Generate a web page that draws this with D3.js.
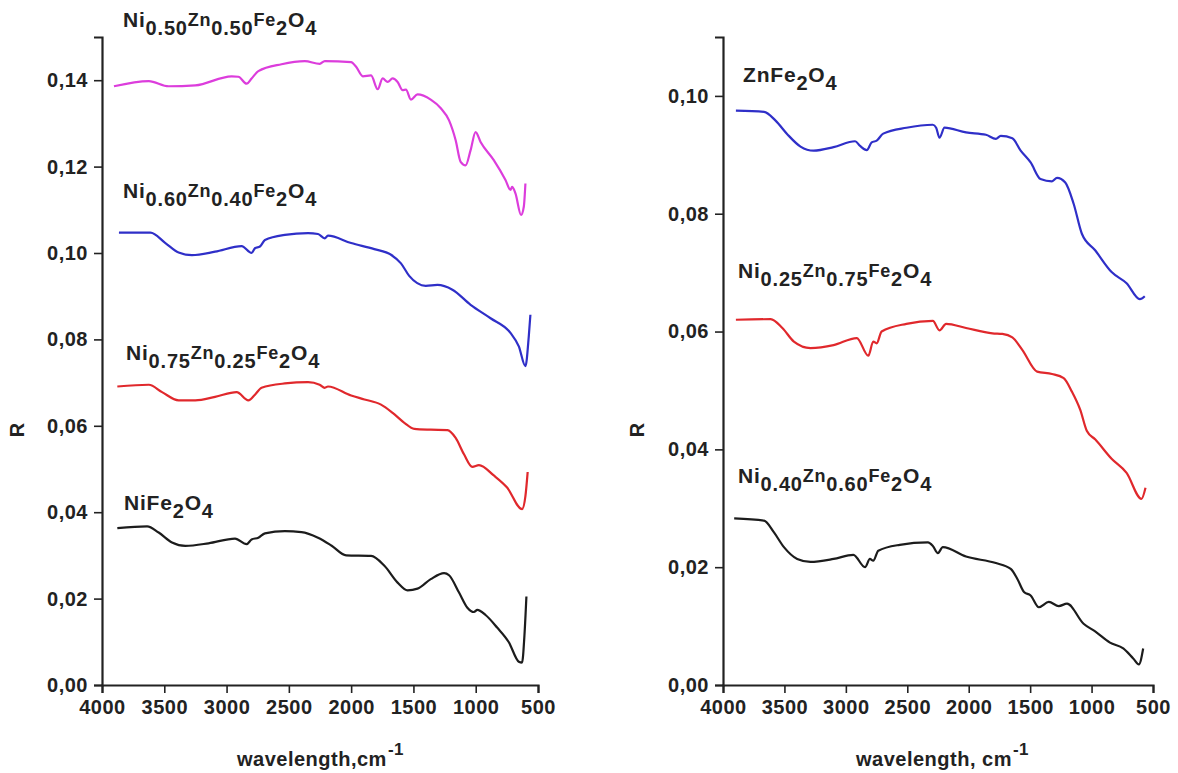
<!DOCTYPE html>
<html>
<head>
<meta charset="utf-8">
<script src="https://cdn.jsdelivr.net/npm/d3@7"></script>
<style>
  body { margin: 0; background: #fff; }
  text { font-family: "Liberation Sans", Arial, sans-serif; font-weight: bold; fill: #222; }
</style>
</head>
<body>
<div id="chart"></div>
<script>
// wavenumber (cm-1), R
var niZn50 = [[3904,0.1386],[3624,0.1398],[3465,0.1386],[3251,0.1388],[2959,0.1409],[2905,0.1408],[2839,0.1392],[2799,0.1404],[2745,0.1421],[2559,0.1437],[2372,0.1444],[2252,0.1438],[2212,0.1444],[2000,0.1442],[1960,0.1431],[1906,0.1409],[1840,0.1411],[1787,0.1379],[1747,0.1404],[1707,0.1396],[1667,0.1404],[1627,0.1396],[1587,0.1377],[1560,0.1378],[1520,0.1355],[1467,0.1367],[1361,0.1355],[1280,0.1335],[1214,0.1307],[1161,0.1261],[1121,0.1211],[1081,0.1203],[1041,0.1238],[1001,0.1280],[961,0.1257],[855,0.1215],[761,0.1169],[721,0.1146],[708,0.1153],[681,0.1138],[636,0.1088],[614,0.1107],[601,0.1161]];
var niZn40 = [[3864,0.1047],[3611,0.1047],[3491,0.1023],[3385,0.1001],[3278,0.0995],[3092,0.1003],[2879,0.1016],[2799,0.1000],[2772,0.1011],[2732,0.1015],[2692,0.1030],[2532,0.1042],[2346,0.1046],[2266,0.1044],[2212,0.1034],[2186,0.1040],[2000,0.1023],[1814,0.1009],[1680,0.0996],[1600,0.0976],[1534,0.0947],[1401,0.0924],[1307,0.0926],[1187,0.0915],[1041,0.0880],[881,0.0849],[721,0.0815],[654,0.0784],[601,0.0738],[574,0.0807],[561,0.0857]];
var niZn25 = [[3877,0.0691],[3624,0.0695],[3518,0.0678],[3385,0.0659],[3251,0.0659],[3092,0.0667],[2919,0.0678],[2825,0.0659],[2772,0.0672],[2719,0.0688],[2532,0.0698],[2346,0.0701],[2253,0.0695],[2212,0.0688],[2186,0.0691],[2000,0.0670],[1893,0.0661],[1760,0.0649],[1667,0.0630],[1573,0.0607],[1493,0.0593],[1361,0.0591],[1227,0.0590],[1161,0.0572],[1094,0.0534],[1027,0.0505],[974,0.0509],[855,0.0485],[748,0.0457],[628,0.0407],[601,0.0437],[583,0.0493]];
var niFe = [[3877,0.0363],[3638,0.0367],[3545,0.0353],[3438,0.0330],[3331,0.0322],[3145,0.0328],[2932,0.0339],[2839,0.0326],[2799,0.0337],[2745,0.0341],[2692,0.0351],[2532,0.0356],[2399,0.0354],[2266,0.0341],[2159,0.0323],[2040,0.0300],[1840,0.0299],[1733,0.0276],[1627,0.0237],[1547,0.0219],[1467,0.0223],[1361,0.0245],[1254,0.0259],[1214,0.0254],[1134,0.0214],[1067,0.0179],[1014,0.0169],[987,0.0174],[921,0.0162],[828,0.0133],[734,0.0099],[654,0.0054],[628,0.0052],[609,0.0114],[593,0.0205]];

var znFe = [[3895,0.0975],[3666,0.0973],[3572,0.0958],[3477,0.0935],[3369,0.0914],[3262,0.0907],[3100,0.0913],[2925,0.0923],[2884,0.0915],[2830,0.0908],[2790,0.0921],[2749,0.0924],[2696,0.0936],[2507,0.0946],[2292,0.0951],[2265,0.0946],[2238,0.0929],[2197,0.0946],[2022,0.0938],[1860,0.0934],[1779,0.0927],[1739,0.0932],[1645,0.0928],[1577,0.0907],[1496,0.0887],[1416,0.0859],[1322,0.0855],[1281,0.0861],[1214,0.0853],[1146,0.0817],[1079,0.0766],[971,0.0738],[837,0.0701],[715,0.0682],[607,0.0655],[567,0.0660]];
var niZn75 = [[3895,0.0620],[3612,0.0621],[3517,0.0606],[3423,0.0583],[3288,0.0572],[3100,0.0577],[2911,0.0589],[2817,0.0559],[2777,0.0583],[2749,0.0580],[2709,0.0600],[2507,0.0613],[2292,0.0618],[2238,0.0602],[2184,0.0613],[2022,0.0606],[1807,0.0597],[1726,0.0596],[1645,0.0590],[1564,0.0569],[1443,0.0532],[1322,0.0528],[1227,0.0521],[1160,0.0498],[1092,0.0467],[1038,0.0431],[971,0.0417],[837,0.0384],[715,0.0360],[594,0.0316],[561,0.0335]];
var niZn60 = [[3909,0.0283],[3666,0.0279],[3585,0.0259],[3504,0.0234],[3396,0.0214],[3289,0.0209],[3100,0.0214],[2939,0.0221],[2844,0.0200],[2804,0.0214],[2777,0.0211],[2736,0.0228],[2561,0.0238],[2332,0.0242],[2292,0.0236],[2251,0.0224],[2211,0.0234],[2022,0.0218],[1779,0.0207],[1658,0.0197],[1604,0.0180],[1550,0.0158],[1496,0.0152],[1429,0.0132],[1348,0.0141],[1267,0.0134],[1200,0.0138],[1065,0.0104],[971,0.0091],[850,0.0072],[742,0.0062],[661,0.0045],[615,0.0035],[580,0.0062]];

var xTicks = [4000, 3500, 3000, 2500, 2000, 1500, 1000, 500];
var yTicksLeft = [0, 0.02, 0.04, 0.06, 0.08, 0.10, 0.12, 0.14];
var yTicksRight = [0, 0.02, 0.04, 0.06, 0.08, 0.10];

// formula pieces: [text, kind]  n = normal, s = subscript, m = smaller element symbol
var fNiZn50 = [["Ni","n"],["0.50","s"],["Zn","m"],["0.50","s"],["Fe","m"],["2","s"],["O","n"],["4","s"]];
var fNiZn40 = [["Ni","n"],["0.60","s"],["Zn","m"],["0.40","s"],["Fe","m"],["2","s"],["O","n"],["4","s"]];
var fNiZn25 = [["Ni","n"],["0.75","s"],["Zn","m"],["0.25","s"],["Fe","m"],["2","s"],["O","n"],["4","s"]];
var fNiFe = [["NiFe","n"],["2","s"],["O","n"],["4","s"]];
var fZnFe = [["ZnFe","n"],["2","s"],["O","n"],["4","s"]];
var fNiZn75 = [["Ni","n"],["0.25","s"],["Zn","m"],["0.75","s"],["Fe","m"],["2","s"],["O","n"],["4","s"]];
var fNiZn60 = [["Ni","n"],["0.40","s"],["Zn","m"],["0.60","s"],["Fe","m"],["2","s"],["O","n"],["4","s"]];

var svg = d3.select("#chart").append("svg")
  .attr("width", 1178)
  .attr("height", 773);

svg.append("rect").attr("width", 1178).attr("height", 773).attr("fill", "#fff");

function fmt(d){
  return d3.format(".2f")(d).replace(".", ",");
}

function draw_panel(left, right, ymax, yTicks, xlabel, ylabelX){
  var x = d3.scaleLinear().domain([4000, 500]).range([left, right]);
  var y = d3.scaleLinear().domain([0, ymax]).range([685, 37]);

  var minorX = d3.range(4000, 499, -50).filter(function(d){ return d % 500 != 0; });
  var minorY = d3.range(0.01, ymax + 0.0001, 0.02);

  var gx = svg.append("g").attr("transform", "translate(0,685)");
  gx.call(d3.axisBottom(x).tickValues(minorX).tickSize(5).tickFormat(""));
  gx.call(d3.axisBottom(x).tickValues(xTicks).tickSize(8).tickPadding(7).tickFormat(d3.format("d")));

  var gy = svg.append("g").attr("transform", "translate(" + left + ",0)");
  gy.call(d3.axisLeft(y).tickValues(minorY).tickSize(6).tickFormat(""));
  gy.call(d3.axisLeft(y).tickValues(yTicks).tickSize(8).tickPadding(6).tickFormat(fmt));

  svg.selectAll(".domain").attr("stroke", "#222").attr("stroke-width", 2.2);
  svg.selectAll(".tick line").attr("stroke", "#222").attr("stroke-width", 1.6);
  svg.selectAll(".tick text")
    .style("font-family", "'Liberation Sans', Arial, sans-serif")
    .style("font-weight", "bold")
    .style("font-size", "20px")
    .style("letter-spacing", "0.5px")
    .attr("fill", "#222");

  svg.append("text")
    .attr("transform", "translate(" + ylabelX + ",430) rotate(-90)")
    .attr("text-anchor", "middle")
    .style("font-size", "20px")
    .text("R");

  var t = svg.append("text")
    .attr("x", xlabel[0])
    .attr("y", 766)
    .style("font-size", "20px")
    .style("letter-spacing", "0.5px");
  t.append("tspan").text(xlabel[1]);
  t.append("tspan").attr("dy", -11).attr("dx", 1).style("font-size", "17px").text("-1");

  return {x: x, y: y};
}

function draw_curve(sc, data, color){
  var line = d3.line()
    .x(function(d){ return sc.x(d[0]); })
    .y(function(d){ return sc.y(d[1]); })
    .curve(d3.curveMonotoneX);
  svg.append("path")
    .datum(data)
    .attr("d", line)
    .attr("fill", "none")
    .attr("stroke", color)
    .attr("stroke-width", 2.2)
    .attr("stroke-linejoin", "round");
}

function draw_formula(x, y, parts){
  var t = svg.append("text")
    .attr("x", x)
    .attr("y", y)
    .style("letter-spacing", "0.8px");
  var shift = 0;
  parts.forEach(function(p){
    var s = p[1] == "s" ? 8 : (p[1] == "m" ? -1 : 0);
    var size = p[1] == "m" ? "18px" : (p[1] == "s" ? "20px" : "21px");
    t.append("tspan")
      .attr("dy", s - shift)
      .style("font-size", size)
      .text(p[0]);
    shift = s;
  });
}

var left = draw_panel(102, 538, 0.15, yTicksLeft, [237, "wavelength,cm"], 24);
var right = draw_panel(723, 1153, 0.11, yTicksRight, [856, "wavelength, cm"], 644);

draw_curve(left, niZn50, "#dc3ddc");
draw_curve(left, niZn40, "#2f2fc8");
draw_curve(left, niZn25, "#e0282c");
draw_curve(left, niFe, "#1c1c1c");

draw_curve(right, znFe, "#2f2fc8");
draw_curve(right, niZn75, "#e0282c");
draw_curve(right, niZn60, "#1c1c1c");

draw_formula(123, 27, fNiZn50);
draw_formula(123, 198, fNiZn40);
draw_formula(126, 360, fNiZn25);
draw_formula(124, 510, fNiFe);

draw_formula(743, 82, fZnFe);
draw_formula(738, 278, fNiZn75);
draw_formula(738, 483, fNiZn60);
</script>
</body>
</html>
